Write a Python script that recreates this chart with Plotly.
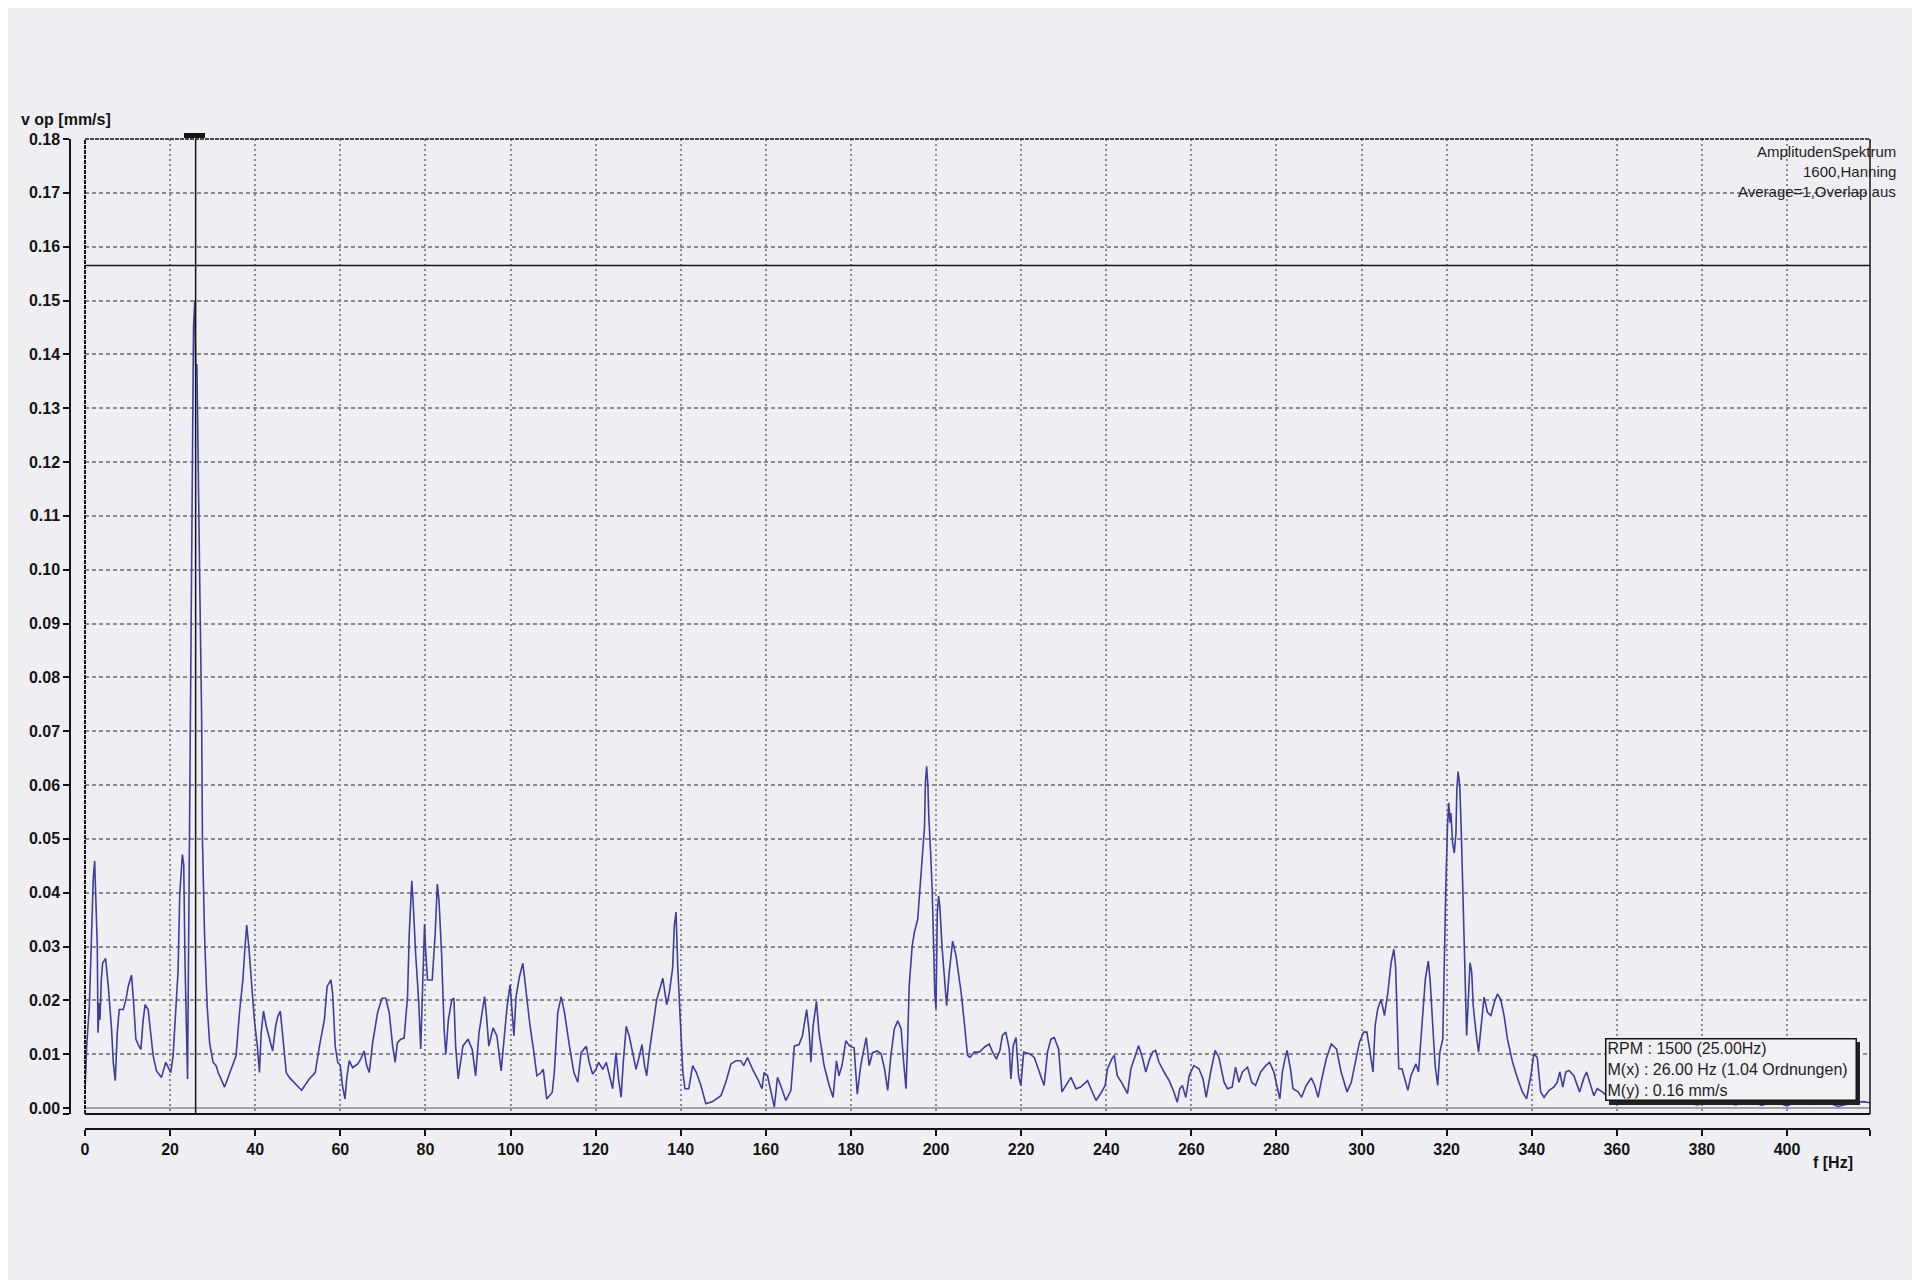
import plotly.graph_objects as go

# spectrum (frequency in Hz, velocity amplitude in mm/s)
freq_hz = [
    0.0, 0.39, 1.02, 1.56, 1.95, 2.27, 2.58, 2.89, 3.05, 3.36, 3.52, 3.83, 4.14, 4.84, 5.47, 6.25, 6.64, 7.11,
    7.58, 8.05, 8.98, 9.61, 10.16, 10.94, 11.48, 11.95, 12.5, 13.13, 13.67, 14.14, 14.84, 15.39, 16.02, 16.8,
    17.97, 18.98, 19.53, 20.16, 20.7, 21.33, 21.88, 22.27, 22.89, 23.2, 23.52, 24.1, 24.5, 24.95, 25.3, 25.5,
    25.8, 26.0, 26.3, 26.6, 27.0, 27.4, 27.6, 28.1, 28.7, 29.3, 30.1, 30.8, 31.3, 32.8, 34.0, 35.5, 36.3, 37.1,
    37.5, 38.0, 38.5, 39.1, 39.8, 40.5, 40.9, 41.0, 41.4, 41.95, 42.6, 43.4, 44.1, 44.8, 45.3, 45.9, 46.5, 47.3,
    48.0, 48.8, 50.9, 52.7, 54.1, 55.1, 56.25, 56.9, 57.8, 58.2, 58.8, 59.4, 60.0, 60.5, 61.1, 61.5, 62.1, 62.9,
    64.1, 64.8, 65.6, 66.2, 66.8, 67.6, 68.75, 69.8, 70.7, 71.5, 72.3, 72.9, 73.4, 74.2, 75.0, 75.8, 76.2, 76.8,
    77.1, 77.7, 78.4, 78.9, 79.3, 79.8, 80.1, 80.5, 81.6, 82.3, 82.8, 83.2, 83.8, 84.4, 84.8, 85.4, 86.2, 86.7,
    87.1, 87.7,
    88.8, 90.0, 91.0, 91.8, 92.6, 93.35, 93.9, 94.3, 94.9, 95.9, 96.8, 97.8, 98.4, 99.2, 99.9, 100.4, 100.8,
    101.3, 102.1, 102.9, 103.7, 104.6, 105.4, 106.2, 107.2, 107.7, 108.5, 109.8, 110.3, 111.1, 111.9, 112.7,
    113.85, 114.9, 115.8, 116.6, 117.8, 118.5, 119.3, 120.1, 120.7, 121.7, 122.5, 123.2, 124.0, 124.8, 125.4,
    126.0, 126.5, 127.2, 127.9, 128.7, 129.5, 130.3, 130.9, 131.5, 132.0, 132.6, 133.4, 134.35, 135.8, 136.7,
    137.3, 138.1, 138.5, 138.9, 139.3, 139.7, 140.1, 140.5, 141.0, 141.9, 142.8, 143.7, 144.75, 145.9, 147.5,
    149.45, 150.6, 151.8, 153.0, 154.1, 154.8, 155.7, 156.9, 158.1, 159.1, 159.6, 160.4, 161.2, 162.0, 162.75,
    163.5, 164.7, 165.9, 166.7, 167.8, 168.6, 169.6, 170.2, 170.6, 171.1, 171.9, 172.5, 173.7, 174.9, 175.8,
    176.6, 177.2, 177.9, 178.8, 179.7, 180.75, 181.5, 182.3, 182.9, 183.6, 184.3, 185.1, 186.2,
    187.1, 187.9, 188.65, 189.4, 190.2, 191.0, 191.8, 192.4, 192.95, 193.35, 193.7, 194.4, 194.9, 195.7, 196.2,
    196.9, 197.3, 197.5, 197.8, 198.1, 198.3, 198.7, 199.1, 199.4, 199.7, 200.0, 200.3, 200.6, 200.9, 201.4,
    201.95, 202.5, 203.1, 203.9, 204.7, 205.9, 206.65, 207.4, 208.0, 209.0, 210.2, 211.35, 212.5, 213.3, 214.2,
    215.0, 215.6, 216.4, 217.2, 217.6, 218.15, 218.8, 219.4, 219.95, 220.6, 221.9, 223.1, 224.3, 225.4, 226.2,
    227.0, 227.8, 228.8, 229.6, 230.5, 231.7, 232.9, 234.0, 235.6, 236.4, 237.6, 238.7, 239.75, 240.3, 241.3,
    241.9, 242.6, 243.8, 245.0, 245.8, 246.8, 247.6, 248.5, 249.3, 250.2, 250.9, 251.6, 252.4, 253.6, 254.8,
    255.9, 256.7, 257.3, 257.9, 258.7, 259.5, 260.6, 261.8, 262.75, 263.5, 264.55, 265.6, 266.5, 267.7, 268.5,
    269.6, 270.4, 271.2, 272.0, 273.2, 274.2, 275.1, 276.3, 277.5, 278.4, 279.4,
    280.8, 281.4, 282.0, 282.5, 283.3, 283.9, 285.1, 285.9, 287.0, 288.2, 289.0, 289.8, 290.5, 291.7, 292.9,
    294.1, 295.2, 296.6, 297.6, 298.75, 299.5, 300.5, 301.25, 301.9, 302.7, 303.2, 303.8, 304.6, 305.4, 306.2,
    306.95, 307.6, 308.0, 308.3, 308.75, 309.5, 310.1, 310.9, 311.6, 312.8, 313.4, 314.2, 315.0, 315.7, 316.1,
    316.7, 317.3, 317.9, 318.4, 319.1, 319.45, 319.8, 320.2, 320.5, 320.8, 321.0, 321.4, 321.8, 322.2, 322.4,
    322.7, 323.1, 323.5, 323.9, 324.3, 324.7, 325.1, 325.5, 325.9, 326.25, 326.9, 327.5, 328.05, 328.8, 329.6,
    330.4, 331.2, 331.95, 332.7, 333.5, 334.3, 335.5, 336.6, 337.8, 338.8, 339.8, 340.5, 341.3, 342.1, 342.9,
    344.1, 345.2, 346.0, 346.6, 347.3, 348.0, 348.75, 349.9, 351.25, 352.3, 352.9, 353.8, 354.6, 355.4, 356.6,
    358.0, 360.0, 362.0, 365.0, 368.0, 370.0, 373.0, 376.0, 379.0, 382.0, 385.0, 388.0, 391.0, 394.0, 397.0,
    400.0, 403.0, 406.0, 409.0, 412.0, 415.0, 418.0, 419.5,
]

v_op = [
    0.0030, 0.0115, 0.0189, 0.0312, 0.0428, 0.0459, 0.0391, 0.0299, 0.0140, 0.0195, 0.0164, 0.0238, 0.0269,
    0.0278, 0.0226, 0.0146, 0.0085, 0.0051, 0.0140, 0.0183, 0.0183, 0.0201, 0.0226, 0.0247, 0.0189, 0.0128,
    0.0118, 0.0109, 0.0164, 0.0192, 0.0183, 0.0140, 0.0097, 0.0069, 0.0057, 0.0085, 0.0075, 0.0066, 0.0097,
    0.0195, 0.0256, 0.0398, 0.0471, 0.0453, 0.0263, 0.0054, 0.0480, 0.1020, 0.1240, 0.1450, 0.1500, 0.1380,
    0.1380, 0.1140, 0.0955, 0.0734, 0.0500, 0.0320, 0.0190, 0.0120, 0.0085, 0.0079, 0.0066, 0.0039, 0.0066,
    0.0097, 0.0177, 0.0238, 0.0287, 0.0340, 0.0300, 0.0238, 0.0164, 0.0115, 0.0079, 0.0066, 0.0140, 0.0180,
    0.0152, 0.0128, 0.0106, 0.0152, 0.0170, 0.0180, 0.0128, 0.0066, 0.0057, 0.0050, 0.0033, 0.0054, 0.0066,
    0.0115, 0.0164, 0.0226, 0.0238, 0.0213, 0.0115, 0.0085, 0.0079, 0.0042, 0.0017, 0.0054, 0.0088, 0.0075,
    0.0082, 0.0091, 0.0106, 0.0079, 0.0066, 0.0121, 0.0177, 0.0204, 0.0204, 0.0177, 0.0115, 0.0085, 0.0121,
    0.0128, 0.0130, 0.0207, 0.0324, 0.0422, 0.0385, 0.0287, 0.0201, 0.0110, 0.0238, 0.0342, 0.0287, 0.0238,
    0.0238, 0.0324, 0.0416, 0.0385, 0.0287, 0.0146, 0.0100, 0.0164, 0.0201, 0.0204, 0.0115, 0.0054,
    0.0115, 0.0128, 0.0109, 0.0060, 0.0140, 0.0177, 0.0207, 0.0177, 0.0115, 0.0149, 0.0134, 0.0069, 0.0115,
    0.0189, 0.0229, 0.0177, 0.0134, 0.0207, 0.0244, 0.0269, 0.0213, 0.0152, 0.0109, 0.0060, 0.0066, 0.0072,
    0.0017, 0.0029, 0.0066, 0.0177, 0.0207, 0.0177, 0.0115, 0.0066, 0.0048, 0.0103, 0.0115, 0.0085, 0.0063,
    0.0072, 0.0085, 0.0072, 0.0085, 0.0060, 0.0036, 0.0103, 0.0054, 0.0020, 0.0085, 0.0152, 0.0134, 0.0103,
    0.0072, 0.0097, 0.0118, 0.0079, 0.0060, 0.0103, 0.0152, 0.0201, 0.0241, 0.0192, 0.0213, 0.0260, 0.0339,
    0.0364, 0.0263, 0.0201, 0.0115, 0.0066, 0.0036, 0.0036, 0.0079, 0.0066, 0.0042, 0.0008, 0.0012, 0.0023,
    0.0048, 0.0082, 0.0088, 0.0088, 0.0079, 0.0094, 0.0072, 0.0054, 0.0036, 0.0066, 0.0060, 0.0033, 0.0002,
    0.0057, 0.0042, 0.0014, 0.0033, 0.0115, 0.0118, 0.0134, 0.0183, 0.0140, 0.0085, 0.0152, 0.0198, 0.0140,
    0.0079, 0.0042, 0.0020, 0.0088, 0.0060, 0.0079, 0.0125, 0.0115, 0.0112, 0.0026, 0.0079, 0.0103, 0.0131,
    0.0079, 0.0103, 0.0106,
    0.0101, 0.0073, 0.0033, 0.0098, 0.0147, 0.0162, 0.0147, 0.0085, 0.0036, 0.0128, 0.0227, 0.0301, 0.0326,
    0.0351, 0.0406, 0.0468, 0.0523, 0.0604, 0.0635, 0.0598, 0.0542, 0.0480, 0.0406, 0.0314, 0.0215, 0.0184,
    0.0363, 0.0394, 0.0375, 0.0301, 0.0252, 0.0190, 0.0252, 0.0310, 0.0283, 0.0215, 0.0159, 0.0098, 0.0094,
    0.0104, 0.0104, 0.0113, 0.0119, 0.0104, 0.0091, 0.0107, 0.0135, 0.0141, 0.0110, 0.0054, 0.0116, 0.0131,
    0.0060, 0.0042, 0.0104, 0.0101, 0.0094, 0.0067, 0.0042, 0.0104, 0.0128, 0.0131, 0.0110, 0.0030, 0.0042,
    0.0057, 0.0036, 0.0039, 0.0051, 0.0036, 0.0014, 0.0027, 0.0042, 0.0073, 0.0091, 0.0098, 0.0060, 0.0045,
    0.0027, 0.0073, 0.0098, 0.0116, 0.0094, 0.0067, 0.0091, 0.0104, 0.0107, 0.0085, 0.0067, 0.0051, 0.0030,
    0.0011, 0.0036, 0.0042, 0.0020, 0.0060, 0.0079, 0.0073, 0.0054, 0.0020, 0.0067, 0.0107, 0.0094, 0.0048,
    0.0036, 0.0039, 0.0076, 0.0048, 0.0067, 0.0076, 0.0048, 0.0042, 0.0067, 0.0079, 0.0085, 0.0067,
    0.0017, 0.0067, 0.0091, 0.0107, 0.0073, 0.0036, 0.0030, 0.0020, 0.0042, 0.0056, 0.0042, 0.0020, 0.0048,
    0.0091, 0.0119, 0.0110, 0.0067, 0.0030, 0.0048, 0.0091, 0.0122, 0.0141, 0.0141, 0.0110, 0.0067, 0.0153,
    0.0184, 0.0202, 0.0172, 0.0215, 0.0270, 0.0295, 0.0264, 0.0190, 0.0073, 0.0073, 0.0054, 0.0033, 0.0060,
    0.0082, 0.0067, 0.0159, 0.0240, 0.0273, 0.0240, 0.0159, 0.0079, 0.0042, 0.0104, 0.0128, 0.0283, 0.0406,
    0.0523, 0.0567, 0.0530, 0.0548, 0.0493, 0.0474, 0.0511, 0.0591, 0.0625, 0.0598, 0.0499, 0.0388, 0.0283,
    0.0135, 0.0202, 0.0270, 0.0252, 0.0190, 0.0141, 0.0104, 0.0147, 0.0206, 0.0178, 0.0172, 0.0196, 0.0212,
    0.0202, 0.0172, 0.0128, 0.0085, 0.0057, 0.0030, 0.0017, 0.0060, 0.0101, 0.0094, 0.0030, 0.0020, 0.0033,
    0.0039, 0.0048, 0.0067, 0.0039, 0.0067, 0.0070, 0.0060, 0.0030, 0.0057, 0.0067, 0.0042, 0.0023, 0.0036,
    0.0030,
    0.0020, 0.0040, 0.0030, 0.0045, 0.0020, 0.0035, 0.0008, 0.0010, 0.0006, 0.0020, 0.0012, 0.0006, 0.0015,
    0.0005, 0.0012, 0.0004, 0.0015, 0.0007, 0.0012, 0.0003, 0.0009, 0.0012, 0.0010,
]

x_ticks = list(range(0, 401, 20))
y_ticks = [round(i * 0.01, 2) for i in range(19)]
y_tick_text = ["%.2f" % v for v in y_ticks]

x_max = 419.5
y_min = -0.0011
y_max = 0.18

cursor_x = 26.0
cursor_y = 0.1565

info_lines = ["AmplitudenSpektrum", "1600,Hanning", "Average=1,Overlap aus"]
marker_lines = ["RPM : 1500 (25.00Hz)", "M(x) : 26.00 Hz (1.04 Ordnungen)", "M(y) : 0.16 mm/s"]

# the page puts the figure 8px in from the window corner
OFF = 8
W, H = 1920 - OFF, 1280 - OFF
ML, MR, MT, MB = 70 - OFF, 50, 139 - OFF, 151
PW, PH = W - ML - MR, H - MT - MB


def px(x):
    # window pixel -> paper x
    return (x - OFF - ML) / PW


def py(y):
    # window pixel -> paper y
    return (OFF + H - MB - y) / PH


bg = "#efeff3"
grid = "#8a8a92"
ink = "#141414"
tickfont = dict(family="Liberation Sans", size=16, color=ink, weight="bold")

fig = go.Figure()
fig.add_trace(go.Scatter(x=freq_hz, y=v_op, mode="lines",
                         line=dict(color="#3e3e9e", width=1.6), showlegend=False))
# carriers for the detached axes
fig.add_trace(go.Scatter(x=[0], y=[0], xaxis="x2", yaxis="y", mode="markers",
                         marker=dict(opacity=0), showlegend=False, hoverinfo="skip"))
fig.add_trace(go.Scatter(x=[0], y=[0], xaxis="x", yaxis="y2", mode="markers",
                         marker=dict(opacity=0), showlegend=False, hoverinfo="skip"))

fig.update_layout(
    width=W, height=H, autosize=False,
    margin=dict(l=ML, r=MR, t=MT, b=MB),
    paper_bgcolor=bg, plot_bgcolor=bg,
    xaxis=dict(domain=[15 / PW, 1], range=[0, x_max], tick0=0, dtick=20,
               showticklabels=False, ticks="", zeroline=False, showline=False,
               showgrid=True, gridcolor=grid, gridwidth=1.5, griddash="2px,3px"),
    yaxis=dict(domain=[15 / PH, 1], range=[y_min, y_max], tick0=0, dtick=0.01,
               showticklabels=False, ticks="", showline=False,
               zeroline=True, zerolinecolor="#a2a2a8", zerolinewidth=2,
               showgrid=True, gridcolor=grid, gridwidth=1.5, griddash="4px,3px"),
    xaxis2=dict(overlaying="x", anchor="free", position=0, range=[0, x_max],
                tickmode="array", tickvals=x_ticks + [x_max],
                ticktext=[str(v) for v in x_ticks] + [""],
                ticks="outside", ticklen=6, tickwidth=1.5, tickcolor=ink,
                showline=True, linecolor=ink, linewidth=1.5,
                showgrid=False, zeroline=False, tickfont=tickfont),
    yaxis2=dict(overlaying="y", anchor="free", position=0, side="left", range=[y_min, y_max],
                tickmode="array", tickvals=y_ticks + [y_min], ticktext=y_tick_text + [""],
                ticks="outside", ticklen=6, tickwidth=1.5, tickcolor=ink,
                showline=True, linecolor=ink, linewidth=1.5,
                showgrid=False, zeroline=False, tickfont=tickfont),
)

# plot frame
frame = [
    dict(x0=0, x1=1, y0=0, y1=0, width=2, dash="solid"),
    dict(x0=1, x1=1, y0=0, y1=1, width=1.5, dash="solid"),
    dict(x0=0, x1=1, y0=1, y1=1, width=1.5, dash="4px,1px"),
    dict(x0=0, x1=0, y0=0, y1=1, width=2, dash="4px,1px"),
]
for f in frame:
    fig.add_shape(type="line", xref="x domain", yref="y domain",
                  x0=f["x0"], x1=f["x1"], y0=f["y0"], y1=f["y1"],
                  line=dict(color=ink, width=f["width"], dash=f["dash"]))

# cursor
fig.add_shape(type="line", xref="x", yref="y domain", x0=cursor_x, x1=cursor_x, y0=0, y1=1,
              line=dict(color=ink, width=1.5))
fig.add_shape(type="line", xref="x domain", yref="y", x0=0, x1=1, y0=cursor_y, y1=cursor_y,
              line=dict(color=ink, width=1.5))
fig.add_shape(type="rect", xref="paper", yref="paper", x0=px(184), x1=px(205), y0=py(138), y1=py(133),
              fillcolor=ink, line=dict(width=0))

# marker box shadow
fig.add_shape(type="rect", xref="paper", yref="paper", x0=px(1609), x1=px(1860), y0=py(1105), y1=py(1042),
              fillcolor="#222222", line=dict(width=0))

fig.add_annotation(text="v op [mm/s]", xref="paper", yref="paper", x=px(19), y=py(119),
                   xanchor="left", yanchor="middle", showarrow=False,
                   font=dict(family="Liberation Sans", size=16, color=ink, weight="bold"))
fig.add_annotation(text="f [Hz]", xref="paper", yref="paper", x=px(1811), y=py(1162),
                   xanchor="left", yanchor="middle", showarrow=False,
                   font=dict(family="Liberation Sans", size=16, color=ink, weight="bold"))

for i, line in enumerate(info_lines):
    fig.add_annotation(text=line, xref="paper", yref="paper", x=px(1898), y=py(152 + 19.5 * i),
                       xanchor="right", yanchor="middle", showarrow=False,
                       font=dict(family="Liberation Sans", size=15, color="#1e1e1e"))

fig.add_annotation(text="<br>".join(marker_lines), xref="paper", yref="paper",
                   x=px(1605), y=py(1038), xanchor="left", yanchor="top", align="left",
                   showarrow=False, width=247, height=58, borderpad=1, borderwidth=1.5,
                   bordercolor=ink, bgcolor="#f1f1f5",
                   font=dict(family="Liberation Sans", size=16, color="#1e1e1e"))

fig.write_html("out.html")
